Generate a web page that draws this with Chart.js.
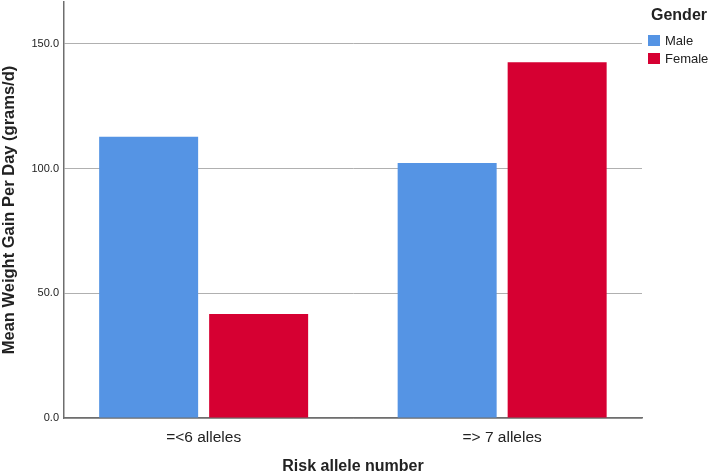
<!DOCTYPE html>
<html>
<head>
<meta charset="utf-8">
<script src="https://cdn.jsdelivr.net/npm/chart.js@4/dist/chart.umd.min.js"></script>
<style>
  html, body { margin: 0; padding: 0; background: #fff; }
  .chart-container { position: relative; width: 709px; height: 476px; }
  .legend { position: absolute; left: 648px; top: 6px; font-family: Arial, "Liberation Sans", sans-serif; color: #222; }
  .legend-title { font-weight: bold; font-size: 16px; margin-left: 3px; margin-bottom: 8px; }
  .legend-item { display: flex; align-items: center; font-size: 13px; height: 17.5px; }
  .legend-box { width: 12px; height: 11px; margin-right: 5px; }
</style>
</head>
<body>
<div class="chart-container">
  <canvas id="chart"></canvas>
  <div class="legend" id="legend"></div>
</div>
<script>
const categories = ['=<6 alleles', '=> 7 alleles'];
const seriesNames = ['Male', 'Female'];
const maleValues = [112.8, 102.2];
const femaleValues = [41.7, 142.6];
const yTicks = [0, 50, 100, 150];

const colors = ['rgb(85, 148, 228)', 'rgb(214, 0, 50)'];
const fontFamily = 'Arial, "Liberation Sans", sans-serif';

// legende html a droite
const legend = document.getElementById('legend');
legend.innerHTML = '<div class="legend-title">Gender</div>' + seriesNames.map((name, i) =>
  `<div class="legend-item"><span class="legend-box" style="background:${colors[i]}"></span>${name}</div>`
).join('');

const ctx = document.getElementById('chart');
new Chart(ctx, {
  type: 'bar',
  data: {
    labels: categories,
    datasets: [{
      label: seriesNames[0],
      data: maleValues,
      backgroundColor: colors[0],
      categoryPercentage: 0.737,
      barPercentage: 0.9
    }, {
      label: seriesNames[1],
      data: femaleValues,
      backgroundColor: colors[1],
      categoryPercentage: 0.737,
      barPercentage: 0.9
    }]
  },
  options: {
    responsive: true,
    maintainAspectRatio: false,
    animation: false,
    layout: { padding: { top: 2, right: 67, bottom: 0, left: 0 } },
    plugins: {
      legend: { display: false },
      tooltip: { enabled: false }
    },
    scales: {
      x: {
        grid: { display: false, drawTicks: false },
        border: { color: '#6e6e6e', width: 1.5 },
        ticks: { padding: 10, color: '#222', font: { family: fontFamily, size: 15.5 } },
        afterBuildTicks: (scale) => {
          // groupes un peu plus ecartes que le centre des categories (comme SPSS)
          scale._startValue = -0.4678;
          scale._valueRange = 1.9363;
        },
        title: {
          display: true,
          text: 'Risk allele number',
          color: '#222',
          font: { family: fontFamily, size: 16, weight: 'bold' },
          padding: { top: 4, bottom: 0 }
        },
        afterFit: (scale) => { scale.height = 58; }
      },
      y: {
        min: 0,
        max: 166.8,
        grid: { color: '#b0b0b0', lineWidth: 1, drawTicks: false },
        border: { color: '#6e6e6e', width: 1.5 },
        ticks: {
          stepSize: 50,
          padding: 5,
          color: '#222',
          font: { family: fontFamily, size: 11 },
          callback: (value) => value.toFixed(1)
        },
        afterBuildTicks: (scale) => {
          scale.ticks = yTicks.map(v => ({ value: v }));
        },
        title: {
          display: true,
          text: 'Mean Weight Gain Per Day (grams/d)',
          color: '#222',
          font: { family: fontFamily, size: 16.5, weight: 'bold' },
          padding: { top: 0, bottom: 4 }
        },
        afterFit: (scale) => {
          scale.width = 64;
          // pas de marge en haut pour les libelles
          scale.paddingTop = 0;
          scale.paddingBottom = 0;
        }
      }
    }
  }
});
</script>
</body>
</html>
